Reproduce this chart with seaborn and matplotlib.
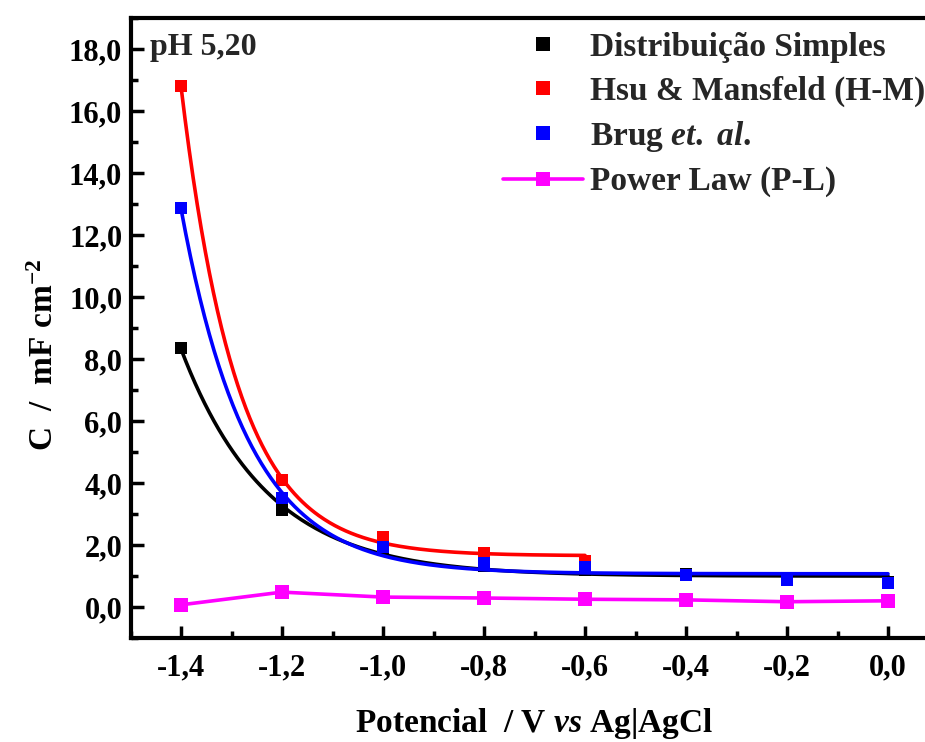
import numpy as np
import pandas as pd
import seaborn as sns
import matplotlib.pyplot as plt
from matplotlib.lines import Line2D
from matplotlib.ticker import MultipleLocator

potential = [-1.4, -1.2, -1.0, -0.8, -0.6, -0.4, -0.2, 0.0]
dist_simples = [8.35, 3.13, 1.85, 1.32, 1.2, 1.05, 0.9, 0.8]
hsu_mansfeld = [16.8, 4.1, 2.26, 1.74, 1.5]
brug = [12.87, 3.52, 1.95, 1.42, 1.29, 1.03, 0.87, 0.77]
power_law = [0.07, 0.48, 0.32, 0.29, 0.25, 0.23, 0.17, 0.2]

labels = ['Distribuição Simples', 'Hsu & Mansfeld (H-M)',
          r'Brug $\mathit{et.\ al.}$', 'Power Law (P-L)']
colors = ['#000000', '#FF0000', '#0000FF', '#FF00FF']

xticks = [-1.4, -1.2, -1.0, -0.8, -0.6, -0.4, -0.2, 0.0]
xtick_labels = ['-1,4', '-1,2', '-1,0', '-0,8', '-0,6', '-0,4', '-0,2', '0,0']
yticks = [0, 2, 4, 6, 8, 10, 12, 14, 16, 18]
ytick_labels = ['0,0', '2,0', '4,0', '6,0', '8,0', '10,0', '12,0', '14,0', '16,0', '18,0']


def expdec_fit(x, y):
    # y = y0 + A*exp(-(x - x0)/t), t by grid search, y0 and A by least squares
    x = np.asarray(x)
    y = np.asarray(y)
    best = None
    for t in np.linspace(0.02, 1.0, 981):
        M = np.column_stack([np.ones_like(x), np.exp(-(x - x[0]) / t)])
        coef = np.linalg.lstsq(M, y, rcond=None)[0]
        sse = ((M @ coef - y) ** 2).sum()
        if best is None or sse < best[0]:
            best = (sse, coef, t)
    _, coef, t = best
    xs = np.linspace(x.min(), x.max(), 300)
    return xs, coef[0] + coef[1] * np.exp(-(xs - x[0]) / t)


sns.set_theme(style='ticks')
plt.rcParams['font.family'] = ['Liberation Serif', 'DejaVu Serif']
plt.rcParams['font.weight'] = 'bold'
plt.rcParams['axes.labelweight'] = 'bold'
plt.rcParams['mathtext.fontset'] = 'custom'
plt.rcParams['mathtext.rm'] = 'Liberation Serif:bold'
plt.rcParams['mathtext.it'] = 'Liberation Serif:italic:bold'
plt.rcParams['mathtext.bf'] = 'Liberation Serif:bold'

fig = plt.figure(figsize=(9.25, 7.42), dpi=100)
ax = fig.add_axes([130.5 / 925, 104 / 742, 808 / 925, 620 / 742])

series = [(potential, dist_simples), (potential[:5], hsu_mansfeld), (potential, brug)]
for (xv, yv), c in zip(series, colors[:3]):
    df = pd.DataFrame({'x': xv, 'y': yv})
    sns.scatterplot(data=df, x='x', y='y', marker='s', s=85, color=c,
                    linewidth=0, ax=ax, zorder=3)
    xs, ys = expdec_fit(xv, yv)
    sns.lineplot(x=xs, y=ys, color=c, linewidth=2.6, ax=ax, zorder=3)

pl = pd.DataFrame({'x': potential, 'y': power_law})
sns.lineplot(data=pl, x='x', y='y', color=colors[3], linewidth=2.6, marker='s',
             markersize=9.5, markeredgewidth=0, ax=ax, zorder=3)

ax.set_xlim(-1.5, 0.1)
ax.set_ylim(-1.0, 19.0)
ax.set_xticks(xticks)
ax.set_xticklabels(xtick_labels)
ax.set_yticks(yticks)
ax.set_yticklabels(ytick_labels)
ax.xaxis.set_minor_locator(MultipleLocator(0.1))
ax.yaxis.set_minor_locator(MultipleLocator(1.0))
ax.tick_params(which='major', direction='in', length=9, width=2.5, labelsize=22,
               color='black', labelcolor='black')
ax.tick_params(which='minor', direction='in', length=5, width=2.5, color='black')
ax.tick_params(axis='x', which='major', pad=11)
ax.tick_params(axis='y', which='major', pad=6)
for side in ['left', 'bottom', 'top']:
    ax.spines[side].set_linewidth(3)
    ax.spines[side].set_color('black')
ax.spines['right'].set_visible(False)

ax.set_xlabel(r'Potencial  / V $\mathit{vs}$ Ag|AgCl', fontsize=24, color='black')
ax.set_ylabel(r'C  /  mF cm$^{\mathbf{-2}}$', fontsize=24, color='black')
ax.xaxis.set_label_coords(0.5, -0.11)
ax.yaxis.set_label_coords(-0.087, 0.456)

ax.text(-1.461, 17.8, 'pH 5,20', fontsize=23, fontweight='bold', va='baseline', ha='left')

handles = [Line2D([], [], color=colors[0], marker='s', markersize=9.5, linestyle='none', markeredgewidth=0),
           Line2D([], [], color=colors[1], marker='s', markersize=9.5, linestyle='none', markeredgewidth=0),
           Line2D([], [], color=colors[2], marker='s', markersize=9.5, linestyle='none', markeredgewidth=0),
           Line2D([], [], color=colors[3], marker='s', markersize=9.5, linewidth=2.6, markeredgewidth=0)]
ax.legend(handles, labels, loc='upper left', bbox_to_anchor=(503 / 925, 1 - 32 / 742),
          bbox_transform=fig.transFigure, frameon=False, fontsize=24, borderpad=0,
          borderaxespad=0, handlelength=2.4, handletextpad=0.2, labelspacing=0.37)

fig.savefig('out.png', dpi=100)
